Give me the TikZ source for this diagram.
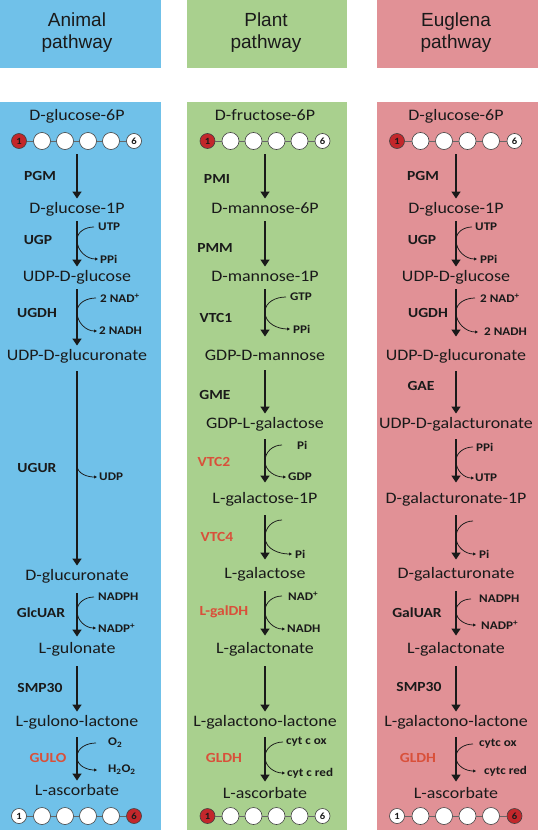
\documentclass[tikz,border=0pt]{standalone}
\usepackage{fontspec}
\setmainfont{Carlito}[FakeStretch=1.12]
\newfontfamily\headfont{Liberation Sans}
\usetikzlibrary{arrows.meta}
\definecolor{animalblue}{HTML}{70C1E9}
\definecolor{plantgreen}{HTML}{A9D08E}
\definecolor{euglenared}{HTML}{E19196}
\definecolor{enzred}{HTML}{D9503A}
\definecolor{atomred}{HTML}{C3272B}
\definecolor{ink}{HTML}{1A1A1A}
\tikzset{
  head/.style={font=\headfont\fontsize{19}{22}\selectfont, align=center, text=ink},
  cpd/.style={font=\fontsize{16}{18}\selectfont, text=ink, text height=11pt, text depth=3.5pt,
              inner xsep=1pt, inner ysep=4pt},
  enz/.style={font=\bfseries\fontsize{13.9}{15}\selectfont, text=ink, inner sep=0pt},
  enzr/.style={enz, text=enzred},
  cof/.style={font=\bfseries\fontsize{11.7}{13}\selectfont, text=ink, anchor=west, inner sep=0pt},
  arr/.style={-{Triangle[length=7pt,width=9pt]}, line width=1.6pt, draw=ink},
  side/.style={line width=0.75pt, draw=ink},
  sidearr/.style={side, -{Triangle[length=3pt,width=3pt]}},
  bond/.style={draw=gray!80!black, line width=0.6pt},
  atom/.style={circle, draw=gray!50!black, line width=0.6pt, fill=white, minimum size=17pt, inner sep=0pt},
  endatom/.style={atom, minimum size=15pt, font=\bfseries\fontsize{9.5}{10}\selectfont, text=ink},
  redatom/.style={endatom, fill=atomred},
}

\begin{document}
\begin{tikzpicture}[x=1pt, y=1pt]
\useasboundingbox (0,0) rectangle (538,-830);
\fill[animalblue] (0,0) rectangle (161,-68);
\fill[plantgreen] (187,0) rectangle (347,-68);
\fill[euglenared] (377,0) rectangle (538,-68);
\fill[animalblue] (0,-102) rectangle (161,-830);
\fill[plantgreen] (187,-102) rectangle (347,-830);
\fill[euglenared] (377,-102) rectangle (538,-830);
\node[head] (hA) at (77,-33) {Animal\\pathway};
\node[head] (hP) at (266,-33) {Plant\\pathway};
\node[head] (hE) at (456,-33) {Euglena\\pathway};

\node[cpd] (a1) at (77,-117) {D-glucose-6P};
\node[redatom] (at1) at (19,-141) {1};
\foreach \i in {2,...,5} \node[atom] (at\i) at ({19+23*(\i-1)},-141) {};
\node[endatom] (at6) at (134,-141) {6};
\draw[bond] (at1) -- (at2) -- (at3) -- (at4) -- (at5) -- (at6);
\coordinate (a0) at (77,-154);
\node[cpd] (a2) at (77,-210) {D-glucose-1P};
\node[cpd] (a3) at (77,-278) {UDP-D-glucose};
\node[cpd] (a4) at (77,-357) {UDP-D-glucuronate};
\node[cpd] (a5) at (77,-577) {D-glucuronate};
\node[cpd] (a6) at (77,-650) {L-gulonate};
\node[cpd] (a7) at (77,-723) {L-gulono-lactone};
\node[cpd] (a8) at (77,-792) {L-ascorbate};
\node[endatom] (ab1) at (19,-816) {1};
\foreach \i in {2,...,5} \node[atom] (ab\i) at ({19+23*(\i-1)},-816) {};
\node[redatom] (ab6) at (134,-816) {6};
\draw[bond] (ab1) -- (ab2) -- (ab3) -- (ab4) -- (ab5) -- (ab6);
\draw[arr] (a0) -- (a2);
\draw[arr] (a2) -- (a3);
\draw[arr] (a3) -- (a4);
\draw[arr, shorten <=3pt] (a4) -- (a5);
\draw[arr, shorten <=5pt, shorten >=2pt] (a5) -- (a6);
\draw[arr, shorten <=5pt] (a6) -- (a7);
\draw[arr, shorten <=3pt] (a7) -- (a8);
\node[enz] (aPGM) at (40,-176) {PGM};
\node[enz] (aUGP) at (38,-240) {UGP};
\node[enz] (aUGDH) at (37,-313) {UGDH};
\node[enz] (aUGUR) at (37,-468) {UGUR};
\node[enz] (aGlcUAR) at (41,-613) {GlcUAR};
\node[enz] (aSMP) at (40,-688) {SMP30};
\node[enzr] (aGULO) at (48,-758) {GULO};
\node[cof] (a2i) at (98,-227) {UTP};
\node[cof] (a2o) at (100,-259) {PPi};
\coordinate (a2m) at (77,-240);
\draw[side] ([xshift=-4pt]a2i.west) to[out=180,in=90] (a2m);
\draw[sidearr] (a2m) to[out=-90,in=180] ([xshift=-2pt]a2o.west);
\node[cof] (a3i) at (100,-298) {2 NAD\textsuperscript{+}};
\node[cof] (a3o) at (99,-331) {2 NADH};
\coordinate (a3m) at (77,-312);
\draw[side] ([xshift=-4pt]a3i.west) to[out=180,in=90] (a3m);
\draw[sidearr] (a3m) to[out=-90,in=180] ([xshift=-2pt]a3o.west);
\node[cof] (a4o) at (99,-477) {UDP};
\coordinate (a4m) at (77,-465);
\draw[sidearr] (a4m) to[out=-90,in=180] ([xshift=-2pt]a4o.west);
\node[cof] (a5i) at (98,-597) {NADPH};
\node[cof] (a5o) at (98,-628) {NADP\textsuperscript{+}};
\coordinate (a5m) at (77,-611);
\draw[side] ([xshift=-4pt]a5i.west) to[out=180,in=90] (a5m);
\draw[sidearr] (a5m) to[out=-90,in=180] ([xshift=-2pt]a5o.west);
\node[cof] (a7i) at (108,-743) {O\textsubscript{2}};
\node[cof] (a7o) at (108,-770) {H\textsubscript{2}O\textsubscript{2}};
\coordinate (a7m) at (77,-757);
\draw[side] ([xshift=-12pt]a7i.west) to[out=180,in=90] (a7m);
\draw[sidearr] (a7m) to[out=-90,in=180] ([xshift=-11pt]a7o.west);

\node[cpd] (p1) at (265,-117) {D-fructose-6P};
\node[redatom] (pt1) at (207.5,-141) {1};
\foreach \i in {2,...,5} \node[atom] (pt\i) at ({207.5+23*(\i-1)},-141) {};
\node[endatom] (pt6) at (322.5,-141) {6};
\draw[bond] (pt1) -- (pt2) -- (pt3) -- (pt4) -- (pt5) -- (pt6);
\coordinate (p0) at (265,-154);
\node[cpd] (p2) at (265,-210) {D-mannose-6P};
\node[cpd] (p3) at (265,-278) {D-mannose-1P};
\node[cpd] (p4) at (265,-357) {GDP-D-mannose};
\node[cpd] (p5) at (265,-425) {GDP-L-galactose};
\node[cpd] (p6) at (265,-500) {L-galactose-1P};
\node[cpd] (p7) at (265,-575) {L-galactose};
\node[cpd] (p8) at (265,-650) {L-galactonate};
\node[cpd] (p9) at (265,-723) {L-galactono-lactone};
\node[cpd] (p10) at (265,-795) {L-ascorbate};
\node[redatom] (pb1) at (207.5,-816) {1};
\foreach \i in {2,...,5} \node[atom] (pb\i) at ({207.5+23*(\i-1)},-816) {};
\node[endatom] (pb6) at (322.5,-816) {6};
\draw[bond] (pb1) -- (pb2) -- (pb3) -- (pb4) -- (pb5) -- (pb6);
\draw[arr] (p0) -- (p2);
\draw[arr] (p2) -- (p3);
\draw[arr, shorten >=9pt] (p3) -- (p4);
\draw[arr, shorten <=2pt] (p4) -- (p5);
\draw[arr, shorten <=3pt, shorten >=6pt] (p5) -- (p6);
\draw[arr, shorten <=4pt, shorten >=4pt] (p6) -- (p7);
\draw[arr, shorten <=5pt, shorten >=3pt] (p7) -- (p8);
\draw[arr, shorten <=5pt] (p8) -- (p9);
\draw[arr, shorten <=3pt, shorten >=2pt] (p9) -- (p10);
\node[enz] (pPMI) at (217,-179) {PMI};
\node[enz] (pPMM) at (215,-248) {PMM};
\node[enz] (pVTC1) at (216,-318) {VTC1};
\node[enz] (pGME) at (215,-395) {GME};
\node[enzr] (pVTC2) at (214,-462) {VTC2};
\node[enzr] (pVTC4) at (217,-537) {VTC4};
\node[enzr] (pGalDH) at (224,-612) {L-galDH};
\node[enzr] (pGLDH) at (224,-758) {GLDH};
\node[cof] (p3i) at (290,-297) {GTP};
\node[cof] (p3o) at (293,-329) {PPi};
\coordinate (p3m) at (265,-312);
\draw[side] ([xshift=-4pt]p3i.west) to[out=180,in=90] (p3m);
\draw[sidearr] (p3m) to[out=-90,in=180] ([xshift=-3pt]p3o.west);
\node[cof] (p5i) at (297,-445) {Pi};
\node[cof] (p5o) at (288,-477) {GDP};
\coordinate (p5m) at (265,-461);
\draw[side] ([xshift=-15pt]p5i.west) to[out=180,in=90] (p5m);
\draw[sidearr] (p5m) to[out=-90,in=180] ([xshift=-2pt]p5o.west);
\coordinate (p6i) at (282,-520);
\node[cof] (p6o) at (295,-554) {Pi};
\coordinate (p6m) at (265,-537);
\draw[side] (p6i) to[out=180,in=90] (p6m);
\draw[sidearr] (p6m) to[out=-90,in=180] ([xshift=-3pt]p6o.west);
\node[cof] (p7i) at (288,-596) {NAD\textsuperscript{+}};
\node[cof] (p7o) at (287,-629) {NADH};
\coordinate (p7m) at (265,-611);
\draw[side] ([xshift=-6pt]p7i.west) to[out=180,in=90] (p7m);
\draw[sidearr] (p7m) to[out=-90,in=180] ([xshift=-2pt]p7o.west);
\node[cof] (p9i) at (286,-742) {cyt c ox};
\node[cof] (p9o) at (287,-773) {cyt c red};
\coordinate (p9m) at (265,-757);
\draw[side] ([xshift=-3pt]p9i.west) to[out=180,in=90] (p9m);
\draw[sidearr] (p9m) to[out=-90,in=180] ([xshift=-2pt]p9o.west);

\node[cpd] (e1) at (456,-117) {D-glucose-6P};
\node[redatom] (et1) at (397,-141) {1};
\foreach \i in {2,...,5} \node[atom] (et\i) at ({397+23.5*(\i-1)},-141) {};
\node[endatom] (et6) at (514.5,-141) {6};
\draw[bond] (et1) -- (et2) -- (et3) -- (et4) -- (et5) -- (et6);
\coordinate (e0) at (456,-154);
\node[cpd] (e2) at (456,-210) {D-glucose-1P};
\node[cpd] (e3) at (456,-278) {UDP-D-glucose};
\node[cpd] (e4) at (456,-357) {UDP-D-glucuronate};
\node[cpd] (e5) at (456,-425) {UDP-D-galacturonate};
\node[cpd] (e6) at (456,-500) {D-galacturonate-1P};
\node[cpd] (e7) at (456,-575) {D-galacturonate};
\node[cpd] (e8) at (456,-650) {L-galactonate};
\node[cpd] (e9) at (456,-723) {L-galactono-lactone};
\node[cpd] (e10) at (456,-795) {L-ascorbate};
\node[endatom] (eb1) at (397,-816) {1};
\foreach \i in {2,...,5} \node[atom] (eb\i) at ({397+23.5*(\i-1)},-816) {};
\node[redatom] (eb6) at (514.5,-816) {6};
\draw[bond] (eb1) -- (eb2) -- (eb3) -- (eb4) -- (eb5) -- (eb6);
\draw[arr] (e0) -- (e2);
\draw[arr] (e2) -- (e3);
\draw[arr, shorten >=9pt] (e3) -- (e4);
\draw[arr, shorten <=3pt] (e4) -- (e5);
\draw[arr, shorten <=3pt, shorten >=6pt] (e5) -- (e6);
\draw[arr, shorten <=4pt, shorten >=4pt] (e6) -- (e7);
\draw[arr, shorten <=5pt, shorten >=3pt] (e7) -- (e8);
\draw[arr, shorten <=5pt] (e8) -- (e9);
\draw[arr, shorten <=3pt, shorten >=2pt] (e9) -- (e10);
\node[enz] (ePGM) at (423,-176) {PGM};
\node[enz] (eUGP) at (422,-240) {UGP};
\node[enz] (eUGDH) at (428,-313) {UGDH};
\node[enz] (eGAE) at (421,-386) {GAE};
\node[enz] (eGalUAR) at (417,-613) {GalUAR};
\node[enz] (eSMP) at (419,-687) {SMP30};
\node[enzr] (eGLDH) at (418,-758) {GLDH};
\node[cof] (e2i) at (475,-227) {UTP};
\node[cof] (e2o) at (480,-259) {PPi};
\coordinate (e2m) at (456,-240);
\draw[side] ([xshift=-3pt]e2i.west) to[out=180,in=90] (e2m);
\draw[sidearr] (e2m) to[out=-90,in=180] ([xshift=-3pt]e2o.west);
\node[cof] (e3i) at (480,-298) {2 NAD\textsuperscript{+}};
\node[cof] (e3o) at (484,-332) {2 NADH};
\coordinate (e3m) at (456,-312);
\draw[side] ([xshift=-5pt]e3i.west) to[out=180,in=90] (e3m);
\draw[sidearr] (e3m) to[out=-90,in=180] ([xshift=-6pt]e3o.west);
\node[cof] (e5i) at (476,-447) {PPi};
\node[cof] (e5o) at (475,-478) {UTP};
\coordinate (e5m) at (456,-461);
\draw[side] ([xshift=-3pt]e5i.west) to[out=180,in=90] (e5m);
\draw[sidearr] (e5m) to[out=-90,in=180] ([xshift=-1pt]e5o.west);
\coordinate (e6i) at (473,-521);
\node[cof] (e6o) at (479,-554) {Pi};
\coordinate (e6m) at (456,-537);
\draw[side] (e6i) to[out=180,in=90] (e6m);
\draw[sidearr] (e6m) to[out=-90,in=180] ([xshift=-3pt]e6o.west);
\node[cof] (e7i) at (479,-599) {NADPH};
\node[cof] (e7o) at (481,-625) {NADP\textsuperscript{+}};
\coordinate (e7m) at (456,-611);
\draw[side] ([xshift=-8pt]e7i.west) to[out=180,in=90] (e7m);
\draw[sidearr] (e7m) to[out=-90,in=180] ([xshift=-5pt]e7o.west);
\node[cof] (e9i) at (479,-744) {cytc ox};
\node[cof] (e9o) at (484,-771) {cytc red};
\coordinate (e9m) at (456,-757);
\draw[side] ([xshift=-6pt]e9i.west) to[out=180,in=90] (e9m);
\draw[sidearr] (e9m) to[out=-90,in=180] ([xshift=-8pt]e9o.west);
\end{tikzpicture}
\end{document}
